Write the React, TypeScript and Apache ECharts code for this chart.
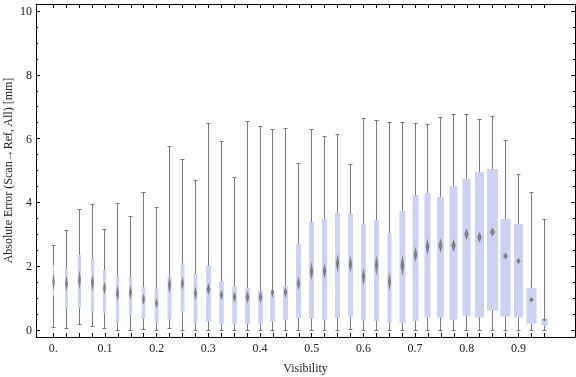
import React, { useEffect, useRef } from "react";
import * as echarts from "echarts";

// Visibility bins (x positions of the boxes)
const visibility = [
  0, 0.025, 0.05, 0.075, 0.1, 0.125, 0.15, 0.175, 0.2, 0.225,
  0.25, 0.275, 0.3, 0.325, 0.35, 0.375, 0.4, 0.425, 0.45, 0.475,
  0.5, 0.525, 0.55, 0.575, 0.6, 0.625, 0.65, 0.675, 0.7, 0.725,
  0.75, 0.775, 0.8, 0.825, 0.85, 0.875, 0.9, 0.925, 0.95,
];
const whiskerLow = [
  0.10, 0.07, 0.18, 0.14, 0.06, 0.00, 0.00, 0.02, 0.00, 0.05,
  0.00, 0.00, 0.00, 0.00, 0.00, 0.00, 0.00, 0.00, 0.00, 0.00,
  0.00, 0.00, 0.00, 0.02, 0.00, 0.00, 0.00, 0.00, 0.00, 0.00,
  0.00, 0.00, 0.00, 0.00, 0.00, 0.00, 0.00, 0.00, 0.00,
];
const quartile1 = [
  1.07, 0.66, 0.70, 0.55, 0.54, 0.24, 0.47, 0.36, 0.23, 0.34,
  0.54, 0.20, 0.26, 0.20, 0.20, 0.20, 0.20, 0.26, 0.32, 0.37,
  0.36, 0.31, 0.38, 0.42, 0.29, 0.29, 0.23, 0.23, 0.29, 0.39,
  0.39, 0.32, 0.45, 0.39, 0.61, 0.42, 0.39, 0.20, 0.14,
];
const centre = [
  1.51, 1.46, 1.57, 1.48, 1.31, 1.15, 1.17, 0.96, 0.84, 1.41,
  1.46, 1.15, 1.28, 1.10, 1.03, 1.03, 1.03, 1.18, 1.18, 1.46,
  1.85, 1.85, 2.09, 2.06, 1.67, 2.02, 1.51, 2.02, 2.37, 2.61,
  2.65, 2.65, 3.00, 2.91, 3.07, 2.32, 2.16, 0.95, 0.32,
];
const quartile3 = [
  2.04, 1.94, 2.35, 2.25, 1.88, 1.72, 1.66, 1.34, 1.29, 1.69,
  2.10, 1.76, 2.01, 1.53, 1.37, 1.31, 1.25, 1.12, 1.37, 2.70,
  3.39, 3.48, 3.67, 3.64, 3.32, 3.44, 3.04, 3.73, 4.23, 4.29,
  4.17, 4.51, 4.73, 4.95, 5.05, 3.48, 3.32, 1.32, 0.36,
];
const whiskerHigh = [
  2.65, 3.13, 3.79, 3.95, 3.16, 3.97, 3.56, 4.32, 3.85, 5.76,
  5.35, 4.70, 6.48, 5.91, 4.79, 6.54, 6.39, 6.29, 6.32, 5.22,
  6.29, 6.07, 6.13, 5.19, 6.64, 6.57, 6.51, 6.51, 6.48, 6.45,
  6.67, 6.76, 6.76, 6.60, 6.70, 5.95, 4.88, 4.32, 3.47,
];
// half height of the mean confidence diamond (mm)
const meanCI = [
  0.29, 0.24, 0.30, 0.26, 0.21, 0.26, 0.24, 0.18, 0.16, 0.26,
  0.21, 0.21, 0.20, 0.17, 0.17, 0.20, 0.20, 0.17, 0.18, 0.22,
  0.29, 0.25, 0.28, 0.26, 0.27, 0.32, 0.29, 0.34, 0.24, 0.26,
  0.23, 0.21, 0.19, 0.18, 0.14, 0.11, 0.10, 0.08, 0.05,
];
// relative sample weight (sets box width)
const sampleWeight = [
  0.14, 0.27, 0.30, 0.30, 0.30, 0.30, 0.30, 0.34, 0.36, 0.36,
  0.36, 0.36, 0.45, 0.43, 0.43, 0.45, 0.45, 0.45, 0.45, 0.45,
  0.45, 0.48, 0.45, 0.45, 0.45, 0.45, 0.39, 0.55, 0.55, 0.55,
  0.64, 0.73, 0.73, 0.82, 1.00, 0.91, 0.82, 0.91, 0.55,
];
const xLabelValues = [0, 0.1, 0.2, 0.3, 0.4, 0.5, 0.6, 0.7, 0.8, 0.9];
const yMajor = [0, 2, 4, 6, 8, 10];
const yMinor = [0.5, 1, 1.5, 2.5, 3, 3.5, 4.5, 5, 5.5, 6.5, 7, 7.5, 8.5, 9, 9.5];

const FONT = "Liberation Serif";
const TXT = "#222";

export default function App() {
  const ref = useRef<HTMLDivElement>(null);
  useEffect(() => {
    const chart = echarts.init(ref.current!, null, { renderer: "svg" });
    const X_MIN = -0.0334, X_MAX = 1.0094, Y_MIN = -0.22, Y_MAX = 10.22;
    const data = visibility.map((v, i) => [
      v, whiskerLow[i], quartile1[i], centre[i], quartile3[i], whiskerHigh[i], meanCI[i], sampleWeight[i],
    ]);
    const tickStyle = { color: "#000", width: 1 };
    const baseX = {
      type: "value" as const,
      min: X_MIN,
      max: X_MAX,
      splitLine: { show: false },
      axisLine: { show: true, onZero: false, lineStyle: { color: "#000", width: 1 } },
      axisTick: { show: true, inside: true, length: 4, lineStyle: tickStyle, customValues: visibility },
    };
    const baseY = {
      type: "value" as const,
      min: Y_MIN,
      max: Y_MAX,
      splitLine: { show: false },
    };
    chart.setOption({
      animation: false,
      grid: { left: 36, right: 1, top: 4, bottom: 40, containLabel: false, outerBoundsMode: "none" },
      xAxis: [
        {
          ...baseX,
          position: "bottom",
          axisLabel: {
            customValues: xLabelValues,
            margin: 5,
            color: TXT,
            fontFamily: FONT,
            fontSize: 12,
            formatter: (v: number) => (v === 0 ? "0." : v.toFixed(1)),
          },
          name: "Visibility",
          nameLocation: "middle",
          nameGap: 25,
          nameTextStyle: { color: TXT, fontFamily: FONT, fontSize: 12 },
        },
        { ...baseX, position: "top", axisLabel: { show: false } },
      ],
      yAxis: [
        {
          ...baseY,
          position: "left",
          axisLine: { show: true, onZero: false, lineStyle: { color: "#000", width: 1 } },
          axisTick: { show: true, inside: true, length: 4, lineStyle: tickStyle, customValues: yMajor },
          axisLabel: { customValues: yMajor, margin: 4, color: TXT, fontFamily: FONT, fontSize: 12 },
          name: "Absolute Error (Scan\u2192Ref, All) [mm]",
          nameLocation: "middle",
          nameRotate: 90,
          nameGap: 22,
          nameMoveOverlap: false,
          nameTextStyle: { color: TXT, fontFamily: FONT, fontSize: 12 },
        },
        {
          ...baseY,
          position: "left",
          axisLine: { show: false, onZero: false },
          axisTick: { show: true, inside: true, length: 2, lineStyle: tickStyle, customValues: yMinor },
          axisLabel: { show: false },
        },
        {
          ...baseY,
          position: "right",
          axisLine: { show: true, onZero: false, lineStyle: { color: "#000", width: 1 } },
          axisTick: { show: true, inside: true, length: 4, lineStyle: tickStyle, customValues: yMajor },
          axisLabel: { show: false },
        },
        {
          ...baseY,
          position: "right",
          axisLine: { show: false, onZero: false },
          axisTick: { show: true, inside: true, length: 2, lineStyle: tickStyle, customValues: yMinor },
          axisLabel: { show: false },
        },
      ],
      series: [
        {
          type: "custom",
          xAxisIndex: 0,
          yAxisIndex: 0,
          data,
          renderItem: (params: any, api: any) => {
            const x = api.value(0);
            const lo = api.coord([x, api.value(1)]);
            const b1 = api.coord([x, api.value(2)]);
            const md = api.coord([x, api.value(3)]);
            const b3 = api.coord([x, api.value(4)]);
            const hi = api.coord([x, api.value(5)]);
            const ci = api.value(6);
            const ciTop = api.coord([x, api.value(3) + ci]);
            const ciBot = api.coord([x, api.value(3) - ci]);
            const step = api.size([0.025, 0])[0];
            const w = step * 0.85 * api.value(7);
            const cx = Math.floor(lo[0]) + 0.5;
            const yHi = Math.round(hi[1]) + 0.5;
            const yLo = Math.round(lo[1]) + 0.5;
            const hw = 1 + 0.14 * w;
            const wl = { stroke: "#787878", lineWidth: 1 };
            return {
              type: "group",
              children: [
                { type: "line", shape: { x1: cx, y1: yHi, x2: cx, y2: yLo }, style: wl },
                { type: "line", shape: { x1: cx - 2, y1: yHi, x2: cx + 2, y2: yHi }, style: wl },
                { type: "line", shape: { x1: cx - 2, y1: yLo, x2: cx + 2, y2: yLo }, style: wl },
                {
                  type: "rect",
                  shape: { x: cx - w / 2, y: b3[1], width: w, height: b1[1] - b3[1] },
                  style: { fill: "#cbd2f4" },
                },
                {
                  type: "polygon",
                  shape: {
                    points: [
                      [cx, ciTop[1]],
                      [cx + hw, md[1]],
                      [cx, ciBot[1]],
                      [cx - hw, md[1]],
                    ],
                  },
                  style: { fill: "#777777", opacity: 0.9 },
                },
              ],
            };
          },
        },
      ],
    });
    return () => chart.dispose();
  }, []);
  return <div ref={ref} style={{ position: "fixed", left: 0, top: 0, width: 576, height: 377 }} />;
}
